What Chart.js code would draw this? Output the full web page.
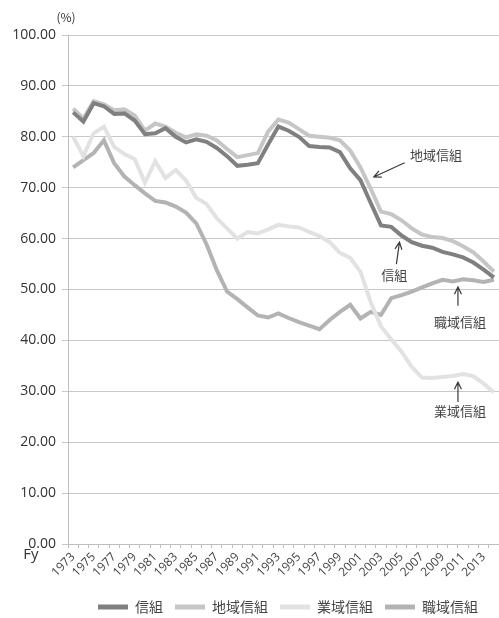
<!DOCTYPE html>
<html>
<head>
<meta charset="utf-8">
<script src="https://cdn.jsdelivr.net/npm/chart.js@4.4.1/dist/chart.umd.min.js"></script>
<style>
  html, body { margin: 0; padding: 0; background: #fff; }
</style>
</head>
<body>
<canvas id="myChart" width="499" height="618"></canvas>
<script>
// fiscal years on the x axis
const years = ['1973','1974','1975','1976','1977','1978','1979','1980','1981','1982',
  '1983','1984','1985','1986','1987','1988','1989','1990','1991','1992',
  '1993','1994','1995','1996','1997','1998','1999','2000','2001','2002',
  '2003','2004','2005','2006','2007','2008','2009','2010','2011','2012',
  '2013','2014'];

// ratios (%) per fiscal year
const shinkumi = [84.8, 83.0, 86.6, 86.0, 84.5, 84.6, 83.2, 80.5, 80.7, 81.7,
  80.0, 78.9, 79.5, 79.0, 77.8, 76.2, 74.3, 74.5, 74.8, 78.5,
  82.0, 81.2, 80.0, 78.2, 78.0, 77.9, 77.0, 73.8, 71.5, 67.0,
  62.6, 62.3, 60.6, 59.3, 58.6, 58.2, 57.4, 56.9, 56.3, 55.3,
  53.9, 52.4];
const chiiki = [85.5, 83.6, 87.0, 86.4, 85.2, 85.4, 84.2, 81.2, 82.6, 82.0,
  80.8, 79.9, 80.5, 80.2, 79.3, 77.6, 76.0, 76.4, 76.8, 81.0,
  83.4, 82.8, 81.5, 80.2, 80.0, 79.8, 79.3, 77.3, 74.0, 69.8,
  65.3, 64.8, 63.6, 62.0, 60.8, 60.3, 60.1, 59.5, 58.5, 57.3,
  55.5, 53.5];
const gyoiki = [80.0, 76.2, 80.7, 82.0, 78.0, 76.6, 75.6, 71.0, 75.2, 71.9,
  73.5, 71.4, 68.0, 66.8, 64.0, 62.0, 60.0, 61.3, 61.0, 61.8,
  62.7, 62.4, 62.2, 61.3, 60.5, 59.3, 57.2, 56.2, 53.5, 47.5,
  42.8, 40.2, 37.8, 34.8, 32.7, 32.6, 32.8, 33.0, 33.4, 33.0,
  31.5, 29.8];
const shokuiki = [74.0, 75.4, 76.8, 79.3, 74.8, 72.2, 70.5, 68.9, 67.4, 67.1,
  66.3, 65.1, 63.0, 58.9, 53.8, 49.6, 48.1, 46.5, 44.9, 44.5,
  45.3, 44.4, 43.6, 42.9, 42.2, 44.0, 45.6, 47.0, 44.3, 45.6,
  45.0, 48.3, 48.9, 49.6, 50.4, 51.2, 51.9, 51.6, 52.0, 51.8,
  51.5, 51.9];

const seriesNames = ['信組', '地域信組', '業域信組', '職域信組'];
const seriesColors = ['#808080', '#c6c6c6', '#e2e2e2', '#b3b3b3'];

// callout labels with arrows, positions given as [year index, percent]
const calloutText = ['地域信組', '信組', '職域信組', '業域信組'];
const calloutAt = [[35.35, 76.4], [31.3, 52.8], [37.7, 43.6], [37.7, 26.1]];
const arrowFrom = [[32.3, 74.9], [31.5, 55.0], [37.5, 46.8], [37.5, 27.9]];
const arrowTo = [[29.3, 72.1], [31.8, 59.3], [37.5, 50.5], [37.5, 31.8]];

const jpFont = "'Noto Sans CJK JP', 'Noto Sans', sans-serif";
const numFont = "'Open Sans', 'Liberation Sans', sans-serif";

const extras = {
  id: 'extras',
  afterLayout(chart) {
    // legend sits a little right of centre and close to the bottom edge
    const lg = chart.legend;
    lg.left += 36; lg.right += 36;
    lg.top += 6; lg.bottom += 6;
  },
  afterDatasetsDraw(chart) {
    const ctx = chart.ctx;
    const xs = chart.scales.x;
    const ys = chart.scales.y;
    const area = chart.chartArea;
    ctx.save();

    // arrows
    ctx.strokeStyle = '#3a3a3a';
    ctx.lineWidth = 1.2;
    for (let i = 0; i < calloutText.length; i++) {
      const x1 = xs.getPixelForValue(arrowFrom[i][0]);
      const y1 = ys.getPixelForValue(arrowFrom[i][1]);
      const x2 = xs.getPixelForValue(arrowTo[i][0]);
      const y2 = ys.getPixelForValue(arrowTo[i][1]);
      const ang = Math.atan2(y2 - y1, x2 - x1);
      const h = 8;
      ctx.beginPath();
      ctx.moveTo(x1, y1);
      ctx.lineTo(x2, y2);
      ctx.moveTo(x2 - h * Math.cos(ang - 0.45), y2 - h * Math.sin(ang - 0.45));
      ctx.lineTo(x2, y2);
      ctx.lineTo(x2 - h * Math.cos(ang + 0.45), y2 - h * Math.sin(ang + 0.45));
      ctx.stroke();
    }

    // callout text
    ctx.fillStyle = '#444';
    ctx.font = '13px ' + jpFont;
    ctx.textAlign = 'center';
    ctx.textBaseline = 'middle';
    for (let i = 0; i < calloutText.length; i++) {
      ctx.fillText(calloutText[i], xs.getPixelForValue(calloutAt[i][0]), ys.getPixelForValue(calloutAt[i][1]));
    }

    // unit and axis captions
    ctx.fillStyle = '#333';
    ctx.font = '12px ' + jpFont;
    ctx.fillText('(%)', area.left - 2, area.top - 18);
    ctx.font = '15px ' + numFont;
    ctx.fillText('Fy', area.left - 37, area.bottom + 11);
    ctx.restore();
  }
};

const datasets = [shinkumi, chiiki, gyoiki, shokuiki].map(function (values, i) {
  return {
    label: seriesNames[i],
    data: values,
    borderColor: seriesColors[i],
    backgroundColor: seriesColors[i],
    borderWidth: 4,
    pointRadius: 0,
    tension: 0,
    fill: false
  };
});

new Chart(document.getElementById('myChart'), {
  type: 'line',
  data: { labels: years, datasets: datasets },
  plugins: [extras],
  options: {
    responsive: false,
    animation: false,
    layout: { padding: { top: 35, right: -5, bottom: 0, left: 0 } },
    plugins: {
      tooltip: { enabled: false },
      legend: {
        position: 'bottom',
        labels: {
          boxWidth: 30,
          boxHeight: 5,
          padding: 12,
          color: '#444',
          font: { family: jpFont, size: 14 },
          generateLabels: function (chart) {
            return Chart.defaults.plugins.legend.labels.generateLabels(chart).map(function (item) {
              item.lineWidth = 0;
              return item;
            });
          }
        }
      }
    },
    scales: {
      x: {
        offset: true,
        grid: { offset: true, drawOnChartArea: false, drawTicks: true, tickLength: 4, color: '#bdbdbd' },
        border: { color: '#bdbdbd' },
        ticks: {
          autoSkip: false,
          minRotation: 45,
          maxRotation: 45,
          padding: 2,
          color: '#444',
          font: { family: numFont, size: 12 },
          callback: function (value, index) {
            return Number(years[index]) % 2 === 1 ? years[index] : '';
          }
        },
        afterFit: function (scale) {
          scale.height = 38;
          // let the plot run right up to the edge
          scale.paddingRight = -5;
        }
      },
      y: {
        min: 0,
        max: 100,
        grid: { color: '#c8c8c8', tickLength: 6, drawTicks: true },
        border: { color: '#bdbdbd' },
        ticks: {
          stepSize: 10,
          padding: 6,
          color: '#333',
          font: { family: numFont, size: 14 },
          callback: function (value) { return value.toFixed(2); }
        },
        afterFit: function (scale) { scale.width = 68; }
      }
    }
  }
});
</script>
</body>
</html>
